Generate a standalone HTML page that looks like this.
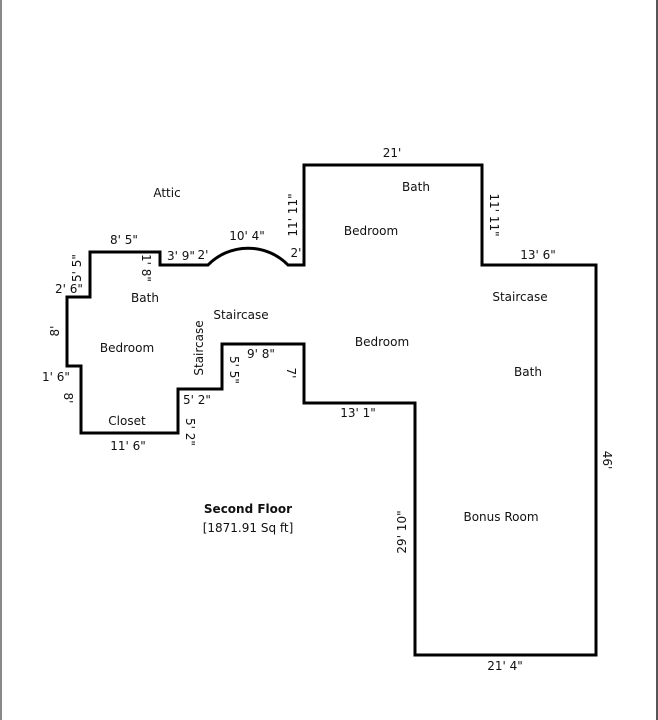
<!DOCTYPE html>
<html><head><meta charset="utf-8"><style>
html,body{margin:0;padding:0;background:#fff;width:658px;height:720px;overflow:hidden}
svg{display:block}
text{font-family:"DejaVu Sans","Liberation Sans",sans-serif;font-size:12px;fill:#111}
</style></head><body>
<svg width="658" height="720" viewBox="0 0 658 720" xmlns="http://www.w3.org/2000/svg">
<rect x="0" y="0" width="658" height="720" fill="#fff"/>
<line x1="1" y1="0" x2="1" y2="720" stroke="#888" stroke-width="2"/>
<line x1="657" y1="0" x2="657" y2="720" stroke="#555" stroke-width="2"/>
<path d="M90 252 L160 252 L160 265 L208 265 A56 56 0 0 1 288 265 L304 265 L304 165 L482 165 L482 265 L596 265 L596 655 L415 655 L415 403 L304 403 L304 344 L222 344 L222 389 L178 389 L178 433 L81 433 L81 366 L67 366 L67 297 L90 297 Z" fill="none" stroke="#000" stroke-width="3" stroke-linejoin="miter"/>
<g text-anchor="middle" dominant-baseline="central">
<text x="167" y="193">Attic</text>
<text x="392" y="153">21'</text>
<text x="416" y="187">Bath</text>
<text x="371" y="231">Bedroom</text>
<text x="124" y="240">8' 5"</text>
<text x="181" y="256">3' 9"</text>
<text x="203" y="255">2'</text>
<text x="247" y="236">10' 4"</text>
<text x="296" y="253">2'</text>
<text x="538" y="255">13' 6"</text>
<text x="69" y="289">2' 6"</text>
<text x="145" y="298">Bath</text>
<text x="241" y="315">Staircase</text>
<text x="520" y="297">Staircase</text>
<text x="127" y="348">Bedroom</text>
<text x="382" y="342">Bedroom</text>
<text x="261" y="354">9' 8"</text>
<text x="528" y="372">Bath</text>
<text x="56" y="377">1' 6"</text>
<text x="197" y="400">5' 2"</text>
<text x="127" y="421">Closet</text>
<text x="358" y="413">13' 1"</text>
<text x="128" y="446">11' 6"</text>
<text x="501" y="517">Bonus Room</text>
<text x="505" y="666">21' 4"</text>
<text x="248" y="509" style="font-weight:bold">Second Floor</text>
<text x="248" y="528">[1871.91 Sq ft]</text>
<text transform="translate(293,215) rotate(-90)">11' 11"</text>
<text transform="translate(494,215) rotate(90)">11' 11"</text>
<text transform="translate(77,268) rotate(-90)">5' 5"</text>
<text transform="translate(146,268) rotate(90)">1' 8"</text>
<text transform="translate(55,331) rotate(-90)">8'</text>
<text transform="translate(199,348) rotate(-90)">Staircase</text>
<text transform="translate(234,370) rotate(90)">5' 5"</text>
<text transform="translate(291,373) rotate(90)">7'</text>
<text transform="translate(68,398) rotate(90)">8'</text>
<text transform="translate(190,432) rotate(90)">5' 2"</text>
<text transform="translate(607,460) rotate(90)">46'</text>
<text transform="translate(402,532) rotate(-90)">29' 10"</text>
</g>
</svg>
</body></html>
